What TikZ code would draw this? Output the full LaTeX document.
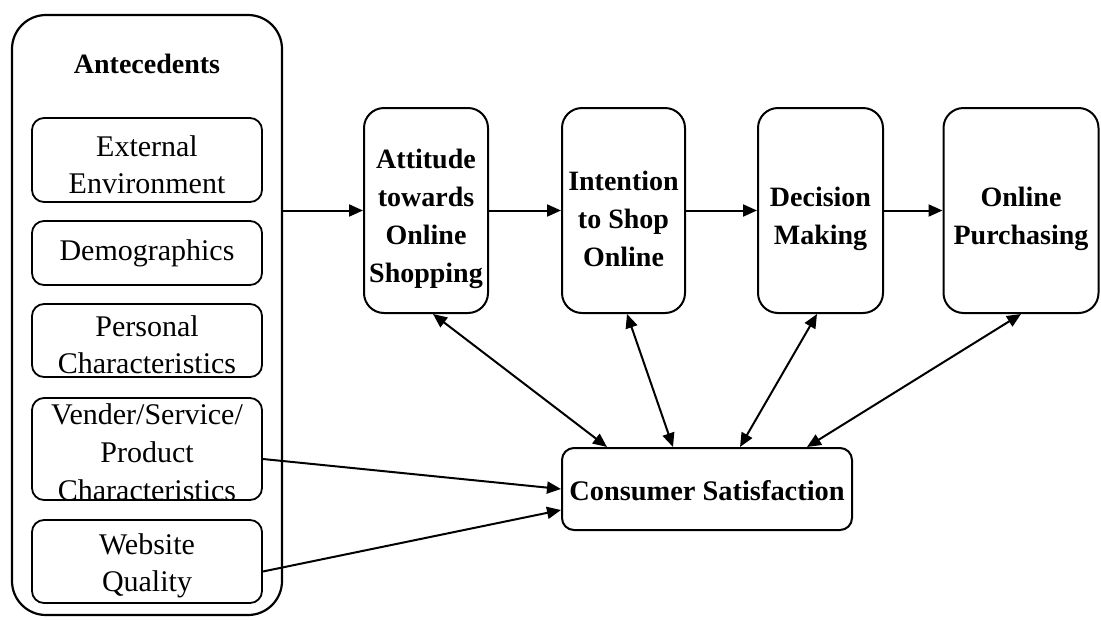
\documentclass[tikz,border=0pt]{standalone}
\usepackage{fontspec}
\setmainfont{Liberation Serif}
\usetikzlibrary{arrows.meta,calc}
\newcommand\bstrut{\rule{0pt}{36pt}}
\newcommand\rstrut{\rule{0pt}{30pt}}
\begin{document}
\begin{tikzpicture}[x=1pt,y=-1pt,
  outerbox/.style={draw, line width=2.2pt, rounded corners=34pt, inner sep=0pt},
  inbox/.style={draw, line width=1.8pt, rounded corners=12pt, minimum width=230pt, inner sep=0pt, align=center, font=\fontsize{30}{37}\selectfont},
  intext/.style={inner sep=0pt, align=center, font=\fontsize{30}{38}\selectfont},
  stage/.style={draw, line width=2pt, rounded corners=20pt, inner sep=0pt, align=center, font=\fontsize{28}{38}\selectfont\bfseries, minimum height=205pt},
  csbox/.style={draw, line width=2pt, rounded corners=12pt, inner sep=0pt, align=center, font=\fontsize{28.4}{38}\selectfont\bfseries},
  title/.style={inner sep=0pt, font=\fontsize{28}{34}\selectfont\bfseries},
  arr/.style={line width=2pt, -{Triangle[length=14pt,width=12pt]}},
  darr/.style={line width=2pt, {Triangle[length=14pt,width=12pt]}-{Triangle[length=14pt,width=12pt]}}]
\useasboundingbox (0,0) rectangle (1101,619);

% Antecedents container
\node[outerbox, minimum width=270pt, minimum height=600pt] (ante) at (147,315) {};
\node[title] (antet) at (147,64) {Antecedents};

\node[inbox, minimum height=84pt] (ext) at (147,160) {\rstrut External\\Environment};
\node[inbox, minimum height=64pt] (demo) at (147,253) {Demographics};
\node[inbox, minimum height=73pt] (pers) at (147,340.5) {\rstrut Personal\\Characteristics};
\node[inbox, minimum height=102pt] (vend) at (147,449) {};
\node[intext] (vendt) at (147,452) {Vender/Service/\\Product\\Characteristics};
\node[inbox, minimum height=83pt] (web) at (147,561.5) {\rstrut Website\\Quality};

% Stages
\node[stage, minimum width=124pt] (att) at (426,210.5) {\bstrut Attitude\\towards\\Online\\Shopping};
\node[stage, minimum width=123pt] (int) at (623.5,210.5) {\bstrut Intention\\to Shop\\Online};
\node[stage, minimum width=125pt] (dec) at (820.5,210.5) {\bstrut Decision\\Making};
\node[stage, minimum width=155pt] (onl) at (1021,210.5) {\bstrut Online\\Purchasing};

% Consumer satisfaction
\node[csbox, minimum width=290pt, minimum height=82pt] (cs) at (707,489) {\rule{0pt}{24pt}Consumer Satisfaction};

% Connectors
\draw[arr] (ante.east |- att.west) -- (att.west);
\draw[arr] (att.east) -- (int.west);
\draw[arr] (int.east) -- (dec.west);
\draw[arr] (dec.east) -- (onl.west);

\draw[darr] ([xshift=7pt]att.south) -- ([xshift=-100pt]cs.north);
\draw[darr] ([xshift=3.5pt]int.south) -- ([xshift=-34pt]cs.north);
\draw[darr] ([xshift=-3.5pt]dec.south) -- ([xshift=33pt]cs.north);
\draw[darr] (onl.south) -- ([xshift=100pt]cs.north);

\draw[arr] ([yshift=-10pt]vend.east) -- (cs.west);
\draw[arr] ([yshift=-10pt]web.east) -- ([yshift=-21pt]cs.west);
\end{tikzpicture}
\end{document}
